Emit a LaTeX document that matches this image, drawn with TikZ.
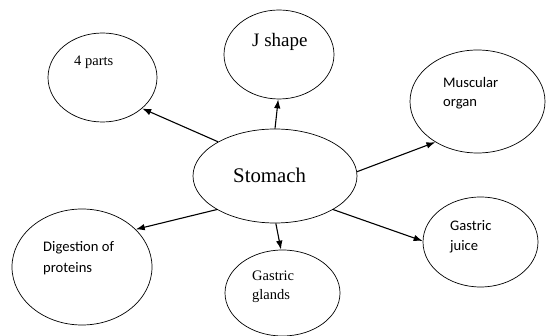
\documentclass[tikz,border=0pt]{standalone}
\usepackage{fontspec}
\setmainfont{Liberation Serif}
\newfontfamily\calib{Carlito}
\usetikzlibrary{shapes.geometric,arrows.meta}
\tikzset{
  bubble/.style={draw=black,line width=0.7pt,ellipse,inner sep=0pt},
  lbl/.style={anchor=base west,inner sep=0pt,text=black},
  serifsm/.style={lbl,font=\fontsize{14.5}{20}\selectfont},
  sanssm/.style={lbl,font=\calib\fontsize{14.6}{20}\selectfont},
  link/.style={line width=1.1pt,-{Latex[length=9pt,width=6.5pt]}}
}
\begin{document}
\begin{tikzpicture}[x=1pt,y=-1pt]
\useasboundingbox (0,0) rectangle (546,336);
% bubbles
\node[bubble,minimum width=109pt,minimum height=89pt] (parts) at (102.5,77.5) {};
\node[bubble,minimum width=110pt,minimum height=89pt] (jshape) at (279,54.5) {};
\node[bubble,minimum width=135pt,minimum height=103pt] (musc) at (477.5,101.5) {};
\node[bubble,minimum width=164pt,minimum height=94pt] (stomach) at (275,176) {};
\node[bubble,minimum width=140pt,minimum height=116pt] (digest) at (82,267) {};
\node[bubble,minimum width=115pt,minimum height=86pt] (glands) at (282.5,293) {};
\node[bubble,minimum width=115pt,minimum height=90pt] (juice) at (480.5,242) {};
% labels
\node[serifsm] (t1) at (74,66) {4 parts};
\node[lbl,font=\fontsize{19}{22}\selectfont] (t2) at (252,47) {J shape};
\node[sanssm] (t3a) at (443,88) {Muscular};
\node[sanssm] (t3b) at (443,107) {organ};
\node[lbl,font=\fontsize{20.8}{24}\selectfont] (t4) at (233,183) {Stomach};
\node[sanssm] (t5a) at (43,252) {Digestion of};
\node[sanssm] (t5b) at (43,273) {proteins};
\node[serifsm] (t6a) at (252,281) {Gastric};
\node[serifsm] (t6b) at (252,300) {glands};
\node[sanssm] (t7a) at (450,231) {Gastric};
\node[sanssm] (t7b) at (450,251) {juice};
% connectors
\draw[link] (stomach.149) -- (parts.-38.6);
\draw[link] (stomach.90) -- (jshape.-91);
\draw[link] (stomach.3) -- (musc.-136.9);
\draw[link] (stomach.210.7) -- (digest.35.2);
\draw[link] (stomach.-89) -- (glands.92);
\draw[link] (stomach.-30.7) -- (juice.179);
\end{tikzpicture}
\end{document}
